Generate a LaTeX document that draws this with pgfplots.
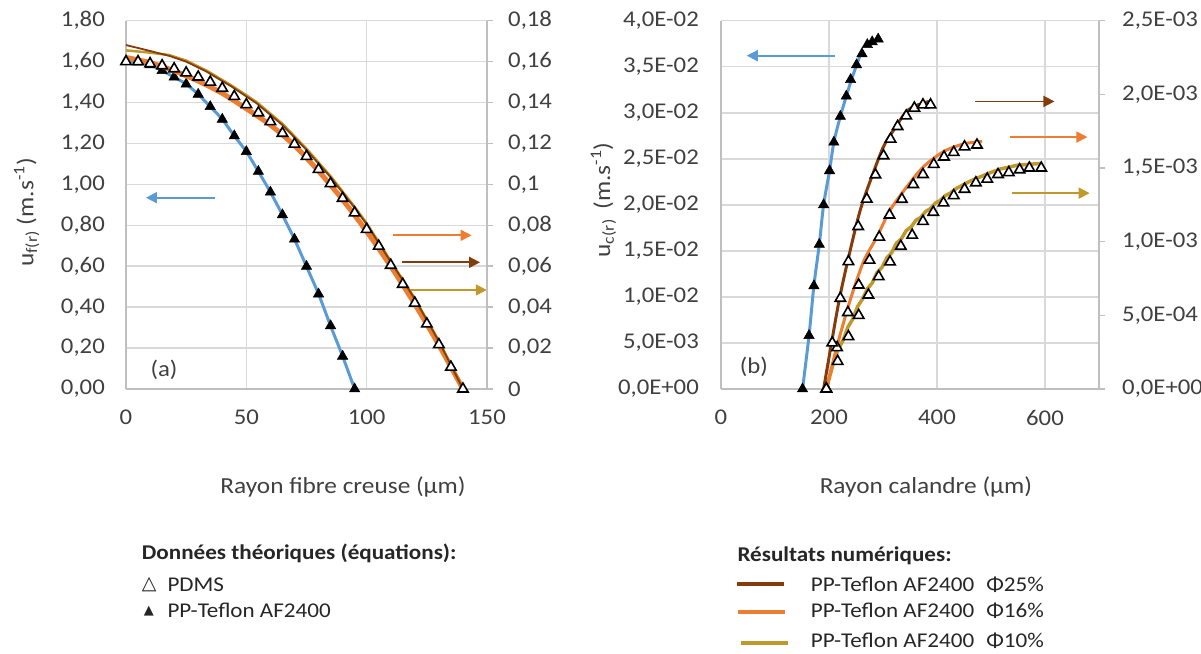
\documentclass[border=0pt]{standalone}
\usepackage{pgfplots}
\pgfplotsset{compat=1.18}
\usepackage{fontspec}
\setmainfont{Carlito}[FakeStretch=1.1]
\newfontfamily\dejavu{DejaVu Sans}
\usetikzlibrary{arrows.meta}
\definecolor{cblue}{HTML}{5B9BD5}
\definecolor{corange}{HTML}{ED7D31}
\definecolor{cbrown}{HTML}{843C0C}
\definecolor{cgold}{HTML}{C0982B}
\definecolor{cgrid}{HTML}{D9D9D9}
\definecolor{caxis}{HTML}{BFBFBF}
\definecolor{ctext}{HTML}{404040}
\definecolor{clegend}{HTML}{262626}

\newcommand{\tickfont}{\fontsize{22.5}{26}\selectfont}
\newcommand{\titlefont}{\fontsize{23}{27}\selectfont}
\newcommand{\legfont}{\fontsize{21}{25}\selectfont}

\tikzset{arr/.style={line width=1.8pt, -{Triangle[length=11pt,width=11pt]}}}
\pgfplotsset{
  base/.style={
    scale only axis, clip=false, height=368.3pt, ymin=0,
    scaled x ticks=false, scaled y ticks=false,
    ticklabel style={font=\tickfont, text=ctext, inner sep=0pt},
    label style={font=\titlefont, text=ctext},
    axis line style={caxis, line width=1.5pt},
  },
  prim/.style={
    axis x line*=bottom, axis y line*=left,
    major tick length=0pt,
    grid=major, major grid style={cgrid, line width=1.5pt},
    xticklabel shift=21pt, yticklabel shift=21pt,
  },
  sec/.style={
    axis x line=none, axis y line*=right, ytick pos=right,
    tick align=outside, major tick length=6pt,
    tick style={caxis, line width=1.5pt},
    yticklabel shift=15pt,
  },
  openm/.style={only marks, mark=triangle*, mark size=6pt,
    mark options={fill=white, draw=black, line width=1.6pt}},
  fillm/.style={only marks, mark=triangle*, mark size=6pt,
    mark options={fill=black, draw=black, line width=0.5pt}},
}

\pgfplotstableread{
r u
0 1.600
5 1.597
10 1.584
15 1.556
20 1.524
25 1.490
30 1.440
35 1.380
40 1.318
45 1.237
50 1.160
55 1.063
60 0.962
65 0.851
70 0.732
75 0.599
80 0.464
85 0.309
90 0.160
95 0
}\leftteflon

\pgfplotstableread{
r u
0 0.160
5 0.160
10 0.159
15 0.158
20 0.1565
25 0.1545
30 0.1525
35 0.150
40 0.147
45 0.143
50 0.139
55 0.135
60 0.1307
65 0.125
70 0.1197
75 0.1137
80 0.1073
85 0.1004
90 0.0932
95 0.0861
100 0.078
105 0.0698
110 0.0605
115 0.0512
120 0.042
125 0.0318
130 0.0217
135 0.0107
140 0
}\leftpdms

\pgfplotstableread{
r u
0 0.162
10 0.1595
20 0.1555
30 0.1505
40 0.1445
50 0.137
60 0.129
70 0.119
80 0.1065
90 0.0925
100 0.077
110 0.060
120 0.0415
130 0.0215
140 0
}\leftorange

\pgfplotstableread{
r u
0 0.1681
9 0.1655
18 0.1628
25 0.160
33.5 0.1551
44 0.1477
54.3 0.1396
65 0.1290
75 0.1168
85 0.1035
95 0.0885
100 0.0805
110 0.0622
120 0.044
130 0.0233
140 0
}\leftbrown

\pgfplotstableread{
r u
0 0.1655
9 0.1645
18 0.1632
25 0.1605
33.5 0.1556
44 0.1482
54.3 0.1402
65 0.1296
75 0.1174
85 0.1040
95 0.0890
100 0.0810
110 0.0625
120 0.0442
130 0.0235
140 0
}\leftgold

\pgfplotstableread{
r u
151 0
163 0.0058
172 0.0112
182 0.0157
190 0.0200
201 0.0237
209 0.0268
221 0.0296
232 0.0318
241 0.0335
250 0.0350
258 0.0363
}\rightblue

\pgfplotstableread{
r u
151 0
163 0.0058
172 0.0112
182 0.0157
190 0.0200
201 0.0237
209 0.0268
221 0.0296
232 0.0318
240 0.0336
251 0.0352
261 0.0364
271 0.0374
280 0.0377
291 0.0380
}\rightteflon

\pgfplotstableread{
r u
190 0
203.5 0.000288
219.5 0.000616
238 0.000922
258 0.001216
279.5 0.001443
301 0.001646
320 0.001759
341 0.001873
357 0.001918
385 0.001952
}\rightbrown

\pgfplotstableread{
r u
195 0
206 0.000313
221 0.000616
236 0.000865
254 0.001103
270 0.001289
286 0.001454
301 0.001583
314 0.001696
327 0.001782
343 0.001854
358 0.001907
374 0.001929
388 0.001929
}\rightbrownpts

\pgfplotstableread{
r u
195 0
214.6 0.000288
239.3 0.000604
264 0.000865
289 0.001034
313.5 0.001216
344.5 0.001374
375.4 0.001510
412.5 0.001612
449.6 0.001664
483.6 0.001680
}\rightorange

\pgfplotstableread{
r u
195 0
215 0.000281
235 0.000519
255 0.000706
275 0.000875
293 0.001031
312 0.001181
335 0.001288
356 0.001388
374 0.001456
394 0.001525
413 0.001575
431 0.001606
451 0.001644
474 0.001656
}\rightorangepts

\pgfplotstableread{
r u
195 0
208 0.000175
217 0.000270
226 0.000330
235 0.000420
244 0.000475
253 0.000560
262 0.000610
271 0.000680
280 0.000720
289 0.000790
298 0.000825
307 0.000890
316 0.000925
325 0.000990
334 0.001020
343 0.001075
352 0.001100
361 0.001145
370 0.001165
379 0.001205
388 0.001225
397 0.001262
406 0.001280
415 0.001312
424 0.001328
436 0.001362
448 0.001385
462 0.001412
474 0.001431
499 0.001469
518 0.001494
549 0.001519
592 0.001531
}\rightgold

\pgfplotstableread{
r u
195 0
216 0.000188
236 0.000356
255 0.000500
273 0.000638
292 0.000763
313 0.000863
333 0.000969
354 0.001044
374 0.001138
393 0.001200
412 0.001263
431 0.001313
451 0.001356
472 0.001400
493 0.001425
513 0.001456
533 0.001469
553 0.001488
571 0.001500
593 0.001500
}\rightgoldpts

\begin{document}
\begin{tikzpicture}
\useasboundingbox (0,0) rectangle (1201pt,653pt);

% ---------------- left chart ----------------
\begin{axis}[base, prim, at={(126pt,264pt)}, anchor=south west, width=361pt,
  xmin=0, xmax=150, ymax=1.8,
  xtick={0,50,100,150}, xticklabels={0,50,100,150},
  ytick={0,0.2,0.4,0.6,0.8,1,1.2,1.4,1.6,1.8},
  yticklabels={{0,00},{0,20},{0,40},{0,60},{0,80},{1,00},{1,20},{1,40},{1,60},{1,80}},
  xlabel={Rayon fibre creuse (µm)},
  xlabel style={at={(axis description cs:0.601,-0.266)}, anchor=center},
  ylabel={u\textsubscript{f(r)} (m.s\textsuperscript{-1})},
  ylabel style={at={(axis description cs:-0.275,0.479)}, anchor=center, rotate=0},
]
\addplot[cblue, line width=3pt, smooth] table[x=r,y=u] {\leftteflon};
\addplot[fillm] table[x=r,y=u] {\leftteflon};
\draw[cblue, arr] (axis cs:37,0.935) -- (axis cs:8.3,0.935);
\draw[corange, arr] (axis cs:111.1,0.751) -- (axis cs:143.6,0.751);
\draw[cbrown, arr] (axis cs:114.5,0.619) -- (axis cs:147.1,0.619);
\draw[cgold, arr] (axis cs:117.3,0.484) -- (axis cs:149.9,0.484);
\node[font=\tickfont, text=ctext] at (axis cs:15.8,0.096) {(a)};
\end{axis}

\begin{axis}[base, sec, at={(126pt,264pt)}, anchor=south west, width=361pt,
  xmin=0, xmax=150, ymax=0.18,
  ytick={0,0.02,0.04,0.06,0.08,0.1,0.12,0.14,0.16,0.18},
  yticklabels={{0},{0,02},{0,04},{0,06},{0,08},{0,1},{0,12},{0,14},{0,16},{0,18}},
]
\addplot[corange, line width=5pt, smooth] table[x=r,y=u] {\leftorange};
\addplot[cgold, line width=2.5pt] table[x=r,y=u] {\leftgold};
\addplot[cbrown, line width=1.8pt] table[x=r,y=u] {\leftbrown};
\addplot[openm] table[x=r,y=u] {\leftpdms};
\end{axis}

% ---------------- right chart ----------------
\begin{axis}[base, prim, at={(721pt,264pt)}, anchor=south west, width=378pt,
  xmin=0, xmax=700, ymax=0.04,
  xtick={0,200,400,600}, xticklabels={0,200,400,600},
  ytick={0,0.005,0.01,0.015,0.02,0.025,0.03,0.035,0.04},
  yticklabels={{0,0E+00},{5,0E-03},{1,0E-02},{1,5E-02},{2,0E-02},{2,5E-02},{3,0E-02},{3,5E-02},{4,0E-02}},
  yticklabel shift=22pt,
  xlabel={Rayon calandre (µm)},
  xlabel style={at={(axis description cs:0.542,-0.266)}, anchor=center},
  ylabel={u\textsubscript{c(r)}\, (m.s\textsuperscript{-1})},
  ylabel style={at={(axis description cs:-0.311,0.513)}, anchor=center, rotate=0},
]
\addplot[cblue, line width=3pt, smooth] table[x=r,y=u] {\rightblue};
\addplot[fillm] table[x=r,y=u] {\rightteflon};
\draw[cblue, arr] (axis cs:211.5,0.0362) -- (axis cs:47.7,0.0362);
\draw[cbrown, arr] (axis cs:471,0.03123) -- (axis cs:617.5,0.03123);
\draw[corange, arr] (axis cs:535,0.02736) -- (axis cs:678.5,0.02736);
\draw[cgold, arr] (axis cs:539.3,0.02127) -- (axis cs:682.7,0.02127);
\node[font=\tickfont, text=ctext] at (axis cs:60.8,0.00243) {(b)};
\end{axis}

\begin{axis}[base, sec, at={(721pt,264pt)}, anchor=south west, width=378pt,
  xmin=0, xmax=700, ymax=0.0025,
  ytick={0,0.0005,0.001,0.0015,0.002,0.0025},
  yticklabels={{0,0E+00},{5,0E-04},{1,0E-03},{1,5E-03},{2,0E-03},{2,5E-03}},
  yticklabel shift=17pt,
]
\addplot[openm] table[x=r,y=u] {\rightgoldpts};
\addplot[openm] table[x=r,y=u] {\rightorangepts};
\addplot[openm] table[x=r,y=u] {\rightbrownpts};
\addplot[cgold, line width=3.5pt] table[x=r,y=u] {\rightgold};
\addplot[corange, line width=3pt, smooth] table[x=r,y=u] {\rightorange};
\addplot[cbrown, line width=3pt, smooth] table[x=r,y=u] {\rightbrown};
\end{axis}

% ---------------- legends ----------------
\begin{scope}[every node/.style={font=\legfont, text=clegend, inner sep=0pt}]
\node[anchor=west, font=\legfont\bfseries] at (141.7pt,99.7pt) {Données théoriques (équations):};
\node[anchor=west] at (141.7pt,68pt) {{\dejavu\fontsize{19}{22}\selectfont △}};
\node[anchor=west] at (167.3pt,68pt) {PDMS};
\node[anchor=west] at (143.6pt,42.3pt) {{\dejavu\fontsize{13}{16}\selectfont ▲}};
\node[anchor=west] at (167.3pt,42.3pt) {PP-Teflon AF2400};

\node[anchor=west, font=\legfont\bfseries] at (737.3pt,97pt) {Résultats numériques:};
\draw[cbrown, line width=4pt] (737.3pt,68.7pt) -- (784pt,68.7pt);
\draw[corange, line width=4pt] (738pt,41.3pt) -- (785pt,41.3pt);
\draw[cgold, line width=4pt] (740.7pt,9.7pt) -- (787.7pt,9.7pt);
\node[anchor=west] at (810.7pt,68.3pt) {PP-Teflon AF2400\,\, Φ25\%};
\node[anchor=west] at (810.7pt,42pt) {PP-Teflon AF2400\,\, Φ16\%};
\node[anchor=west] at (810.7pt,12.7pt) {PP-Teflon AF2400\,\, Φ10\%};
\end{scope}
\end{tikzpicture}
\end{document}
